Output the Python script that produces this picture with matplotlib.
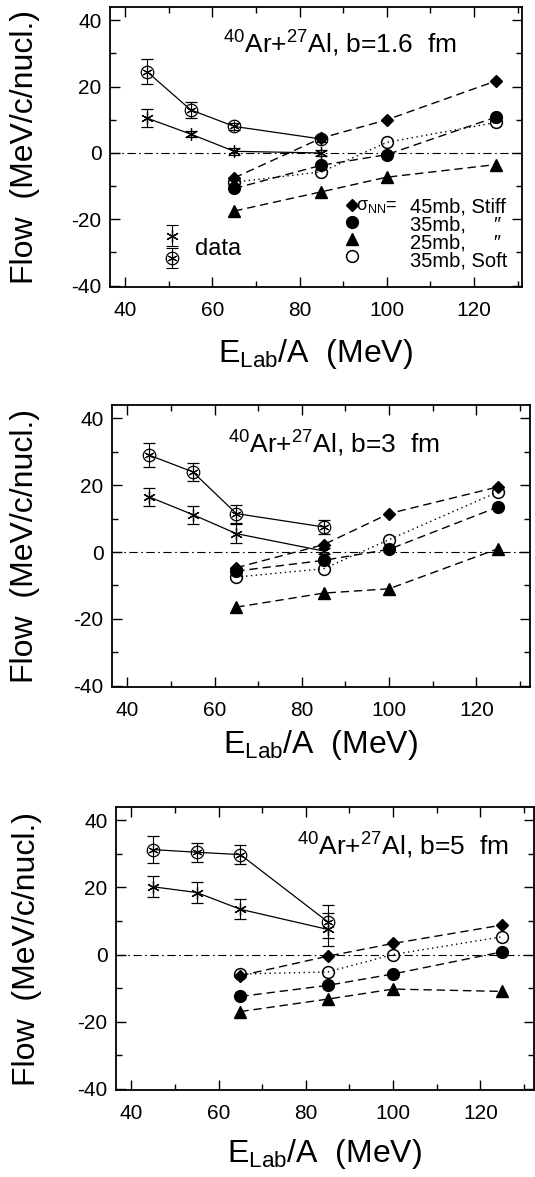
import matplotlib
matplotlib.use('Agg')
import matplotlib.pyplot as plt
from matplotlib.lines import Line2D
from matplotlib.collections import LineCollection
from matplotlib.container import ErrorbarContainer
from matplotlib.legend_handler import HandlerTuple
from matplotlib.ticker import MultipleLocator

plt.rcParams['font.family'] = ['Liberation Sans', 'DejaVu Sans']
plt.rcParams['mathtext.fontset'] = 'custom'
plt.rcParams['mathtext.rm'] = 'Liberation Sans'
plt.rcParams['mathtext.it'] = 'Liberation Sans:italic'
plt.rcParams['mathtext.bf'] = 'Liberation Sans:bold'
plt.rcParams['mathtext.default'] = 'regular'
plt.rcParams['lines.scale_dashes'] = False
plt.rcParams['axes.unicode_minus'] = False

# beam energies (MeV/nucleon)
energy_data = [45, 55, 65, 85]
energy_model = [65, 85, 100, 125]

# b = 1.6 fm
circ_b16 = [24.5, 13.0, 8.0, 4.2]
circ_err_b16 = [3.7, 2.4, 1.0, 1.0]
star_b16 = [10.5, 5.7, 0.5, 0.0]
star_err_b16 = [2.7, 1.0, 1.0, 1.0]
stiff45_b16 = [-7.5, 4.5, 10.0, 21.7]
stiff35_b16 = [-10.7, -3.7, -0.5, 10.8]
stiff25_b16 = [-17.5, -11.7, -7.3, -3.5]
soft35_b16 = [-8.8, -5.7, 3.2, 9.2]

# b = 3 fm
circ_b3 = [29.0, 24.0, 11.5, 7.5]
circ_err_b3 = [3.5, 2.7, 2.7, 2.0]
star_b3 = [16.5, 11.2, 5.5, 0.3]
star_err_b3 = [2.8, 2.7, 2.8, 1.0]
stiff45_b3 = [-4.7, 2.2, 11.5, 19.5]
stiff35_b3 = [-5.7, -2.5, 0.8, 13.5]
stiff25_b3 = [-16.5, -12.3, -11.0, 1.0]
soft35_b3 = [-7.5, -5.0, 3.7, 18.0]

# b = 5 fm
circ_b5 = [31.3, 30.5, 29.8, 9.8]
circ_err_b5 = [4.0, 2.9, 2.9, 5.0]
star_b5 = [20.2, 18.5, 13.5, 7.5]
star_err_b5 = [3.1, 3.1, 3.0, 5.0]
stiff45_b5 = [-6.3, -0.5, 3.3, 8.8]
stiff35_b5 = [-12.5, -9.2, -5.8, 0.8]
stiff25_b5 = [-17.0, -13.3, -10.3, -11.0]
soft35_b5 = [-5.8, -5.2, 0.0, 5.3]

model_labels = ['45mb, Stiff', '35mb,     \u2033', '25mb,     \u2033', '35mb, Soft']

W, H = 535, 1177
fig = plt.figure(figsize=(W / 100, H / 100), dpi=100)

ASTER = (6, 2, 0)
DASH = [6, 3.5]
DOT = [1, 2.5]


def px_axes(left, top, right, bottom):
    return fig.add_axes([left / W, 1 - bottom / H, (right - left) / W, (bottom - top) / H])


def draw_panel(ax, circ, circ_err, star, star_err, s45, s35, s25, soft, title,
               xlim, title_xy, ylab_x, xlab_y):
    ax.axhline(0, color='k', lw=0.8, dashes=[6, 2.5, 1.2, 2.5], zorder=1)

    # data: circled asterisks and asterisks with error bars
    ax.errorbar(energy_data, circ, yerr=circ_err, color='k', lw=0.9, elinewidth=0.8,
                capsize=4, capthick=0.8, marker='o', ms=9, mfc='none', mew=0.9, zorder=3)
    ax.plot(energy_data, circ, ls='none', marker=ASTER, ms=7, mew=0.8, color='k', zorder=3)
    ax.errorbar(energy_data, star, yerr=star_err, color='k', lw=0.9, elinewidth=0.8,
                capsize=4, capthick=0.8, marker=ASTER, ms=9, mew=0.9, zorder=3)

    # model curves
    ax.plot(energy_model, s45, color='k', lw=1.0, dashes=DASH, marker='D', ms=6, zorder=2)
    ax.plot(energy_model, s35, color='k', lw=1.0, dashes=DASH, marker='o', ms=8.5, zorder=2)
    ax.plot(energy_model, s25, color='k', lw=1.0, dashes=DASH, marker='^', ms=8.5, zorder=2)
    ax.plot(energy_model, soft, color='k', lw=1.0, dashes=DOT, marker='o', ms=8.5,
            mfc='none', mew=1.1, zorder=2)

    ax.set_xlim(*xlim)
    ax.set_ylim(-40.4, 44)
    ax.xaxis.set_major_locator(MultipleLocator(20))
    ax.xaxis.set_minor_locator(MultipleLocator(10))
    ax.yaxis.set_major_locator(MultipleLocator(20))
    ax.yaxis.set_minor_locator(MultipleLocator(10))
    ax.tick_params(which='both', direction='in', top=True, right=True, width=1.0, labelsize=15)
    ax.tick_params(which='major', length=7)
    ax.tick_params(which='minor', length=4.5)
    ax.tick_params(axis='x', pad=10)
    ax.tick_params(axis='y', pad=6)
    for sp in ax.spines.values():
        sp.set_linewidth(1.3)

    ax.text(title_xy[0], title_xy[1], title, transform=ax.transAxes,
            ha='left', va='baseline', fontsize=19)

    ax.set_ylabel('Flow  (MeV/c/nucl.)', fontsize=23)
    ax.yaxis.set_label_coords(ylab_x, 0.5)
    ax.set_xlabel('E$_{Lab}$/A  (MeV)', fontsize=23)
    ax.xaxis.set_label_coords(0.5, xlab_y)


ax1 = px_axes(110, 7, 522, 287)
draw_panel(ax1, circ_b16, circ_err_b16, star_b16, star_err_b16,
           stiff45_b16, stiff35_b16, stiff25_b16, soft35_b16,
           '$^{40}$Ar+$^{27}$Al, b=1.6  fm', (36.5, 131.0), (0.274, 0.836), -0.17, -0.179)

ax2 = px_axes(112, 405, 530, 687)
draw_panel(ax2, circ_b3, circ_err_b3, star_b3, star_err_b3,
           stiff45_b3, stiff35_b3, stiff25_b3, soft35_b3,
           '$^{40}$Ar+$^{27}$Al, b=3  fm', (36.5, 132.3), (0.278, 0.831), -0.172, -0.145)

ax3 = px_axes(116, 807, 534, 1090)
draw_panel(ax3, circ_b5, circ_err_b5, star_b5, star_err_b5,
           stiff45_b5, stiff35_b5, stiff25_b5, soft35_b5,
           '$^{40}$Ar+$^{27}$Al, b=5  fm', (36.5, 132.3), (0.432, 0.830), -0.177, -0.166)

# model key (top panel): markers from a legend, labels as one text block
model_handles = [
    Line2D([], [], ls='none', color='k', marker='D', ms=6),
    Line2D([], [], ls='none', color='k', marker='o', ms=8.5),
    Line2D([], [], ls='none', color='k', marker='^', ms=8.5),
    Line2D([], [], ls='none', color='k', marker='o', ms=8.5, mfc='none', mew=1.1),
]
leg_model = ax1.legend(model_handles, [''] * len(model_handles), loc='upper left',
                       bbox_to_anchor=(0.567, 0.308), frameon=False, fontsize=8,
                       borderpad=0, borderaxespad=0, handlelength=1.5,
                       handletextpad=0, labelspacing=0.62)
ax1.add_artist(leg_model)
ax1.text(0.728, 0.318, '\n'.join(model_labels), transform=ax1.transAxes,
         ha='left', va='top', fontsize=14.5, linespacing=0.93)
ax1.text(0.598, 0.275, '\u03c3$_{NN}$=', transform=ax1.transAxes,
         ha='left', va='baseline', fontsize=13)


# data key (top panel)
def err_proxy(marker, ms, mfc):
    line = Line2D([], [], ls='none', color='k', marker=marker, ms=ms, mfc=mfc, mew=0.9)
    cap = Line2D([], [], ls='none', color='k', marker='_', ms=8, mew=0.8)
    bar = LineCollection([], colors='k', linewidths=0.8)
    return ErrorbarContainer((line, (cap, cap), (bar,)), has_xerr=False, has_yerr=True)


star_key = err_proxy(ASTER, 9, 'k')
circ_key = (err_proxy('o', 9, 'none'),
            Line2D([], [], ls='none', color='k', marker=ASTER, ms=7, mew=0.8))
leg_data = ax1.legend([star_key, circ_key], ['', ''], loc='upper left',
                      bbox_to_anchor=(0.125, 0.21), frameon=False, fontsize=15,
                      borderpad=0, borderaxespad=0, handlelength=1.0,
                      handletextpad=0, labelspacing=0.15,
                      handler_map={tuple: HandlerTuple(ndivide=1)})
ax1.annotate('data', xy=(1, 0.5), xycoords=leg_data, xytext=(9, 0),
             textcoords='offset points', ha='left', va='center', fontsize=17, zorder=10)

fig.canvas.draw()
fig.savefig('out.png', dpi=100)
